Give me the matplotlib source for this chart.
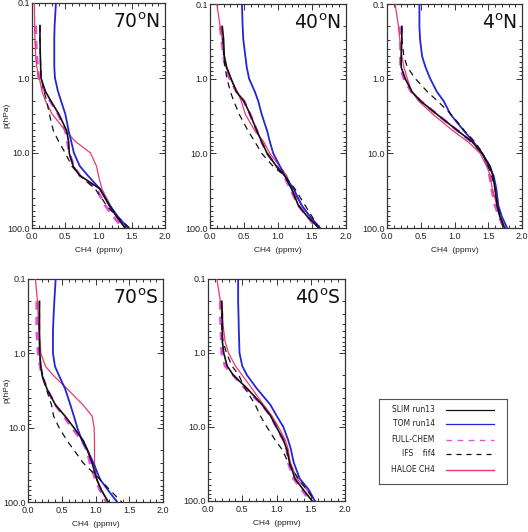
import numpy as np
import matplotlib
matplotlib.use("Agg")
import matplotlib.pyplot as plt
from matplotlib.ticker import FixedLocator, MultipleLocator, LogLocator, NullFormatter

nan = np.nan
# pressure levels (hPa)
P = [0.1, 0.2, 0.3, 0.5, 0.7, 1, 1.5, 2, 3, 5, 7, 10, 15, 20, 30, 50, 70, 100]

titles = ["70", "40", "4", "70", "40"]
hemis = ["N", "N", "N", "S", "S"]

# 70N
haloe_70n = [0.035, 0.04, 0.045, 0.055, 0.07, 0.11, 0.15, 0.2, 0.3, 0.5, 0.65, 0.88, 0.97, 1.0, 1.05, 1.18, 1.27, 1.40]
slim_70n = [nan, 0.12, 0.12, 0.125, 0.13, 0.135, 0.2, 0.28, 0.4, 0.52, 0.55, 0.56, 0.62, 0.72, 1.02, 1.16, 1.27, 1.40]
tom_70n = [0.36, 0.34, 0.335, 0.335, 0.335, 0.345, 0.39, 0.435, 0.5, 0.55, 0.59, 0.63, 0.72, 0.84, 1.02, 1.17, 1.29, 1.445]
full_70n = [nan, 0.055, 0.06, 0.07, 0.085, 0.1, 0.19, 0.27, 0.39, 0.5, 0.53, 0.56, 0.63, 0.72, 0.97, 1.1, 1.22, 1.37]
ifs_70n = [nan, 0.12, 0.12, 0.125, 0.13, 0.14, 0.18, 0.22, 0.26, 0.32, 0.4, 0.5, 0.6, 0.72, 0.95, 1.12, 1.27, 1.47]

# 40N
haloe_40n = [0.1, 0.15, 0.18, 0.21, 0.235, 0.3, 0.4, 0.46, 0.52, 0.66, 0.79, 0.88, 1.03, 1.13, 1.2, 1.35, 1.47, 1.6]
slim_40n = [nan, 0.18, 0.2, 0.21, 0.245, 0.31, 0.39, 0.5, 0.59, 0.69, 0.76, 0.84, 0.98, 1.1, 1.2, 1.3, 1.43, 1.6]
tom_40n = [0.47, 0.48, 0.49, 0.52, 0.54, 0.575, 0.66, 0.71, 0.76, 0.84, 0.88, 0.93, 1.03, 1.1, 1.23, 1.35, 1.47, 1.62]
full_40n = [nan, 0.15, 0.17, 0.2, 0.23, 0.29, 0.39, 0.5, 0.59, 0.69, 0.76, 0.84, 0.98, 1.09, 1.18, 1.3, 1.43, 1.57]
ifs_40n = [nan, 0.18, 0.19, 0.2, 0.22, 0.25, 0.3, 0.35, 0.43, 0.56, 0.66, 0.76, 0.93, 1.1, 1.25, 1.4, 1.5, 1.6]

# 4N
haloe_4n = [0.12, 0.17, 0.19, 0.22, 0.25, 0.3, 0.37, 0.47, 0.68, 0.98, 1.2, 1.38, 1.48, 1.53, 1.56, 1.63, 1.68, 1.75]
slim_4n = [nan, 0.22, 0.22, 0.21, 0.21, 0.27, 0.37, 0.5, 0.74, 1.05, 1.26, 1.41, 1.53, 1.57, 1.6, 1.63, 1.67, 1.74]
tom_4n = [0.48, 0.48, 0.49, 0.52, 0.57, 0.64, 0.74, 0.84, 0.94, 1.14, 1.28, 1.41, 1.51, 1.58, 1.62, 1.65, 1.7, 1.78]
full_4n = [nan, 0.19, 0.2, 0.2, 0.2, 0.25, 0.36, 0.5, 0.74, 1.05, 1.25, 1.4, 1.49, 1.52, 1.55, 1.6, 1.66, 1.73]
ifs_4n = [nan, 0.22, 0.22, 0.25, 0.3, 0.42, 0.6, 0.75, 0.95, 1.15, 1.3, 1.42, 1.5, 1.55, 1.6, 1.64, 1.68, 1.73]

# 70S
haloe_70s = [0.11, 0.14, 0.15, 0.16, 0.18, 0.19, 0.26, 0.38, 0.58, 0.82, 0.95, 0.98, 0.985, 0.985, 0.985, 1.02, 1.09, 1.19]
slim_70s = [nan, 0.17, 0.17, 0.17, 0.17, 0.175, 0.19, 0.21, 0.28, 0.41, 0.55, 0.68, 0.82, 0.88, 0.95, 1.02, 1.09, 1.19]
tom_70s = [0.41, 0.39, 0.38, 0.37, 0.37, 0.37, 0.4, 0.46, 0.55, 0.63, 0.68, 0.73, 0.8, 0.88, 0.97, 1.07, 1.19, 1.32]
full_70s = [nan, 0.13, 0.13, 0.13, 0.14, 0.15, 0.18, 0.21, 0.28, 0.41, 0.53, 0.65, 0.8, 0.87, 0.92, 1.0, 1.07, 1.16]
ifs_70s = [nan, 0.17, 0.17, 0.17, 0.17, 0.17, 0.19, 0.22, 0.27, 0.35, 0.38, 0.46, 0.58, 0.68, 0.82, 1.07, 1.22, 1.39]

# 40S
haloe_40s = [0.13, 0.18, 0.2, 0.23, 0.25, 0.3, 0.4, 0.5, 0.64, 0.81, 0.93, 1.03, 1.13, 1.17, 1.2, 1.3, 1.44, 1.56]
slim_40s = [nan, 0.2, 0.21, 0.21, 0.21, 0.23, 0.28, 0.37, 0.57, 0.79, 0.91, 1.0, 1.1, 1.15, 1.19, 1.27, 1.39, 1.52]
tom_40s = [0.44, 0.44, 0.445, 0.45, 0.455, 0.46, 0.5, 0.57, 0.71, 0.91, 1.0, 1.1, 1.17, 1.21, 1.25, 1.34, 1.47, 1.56]
full_40s = [nan, 0.18, 0.18, 0.19, 0.195, 0.2, 0.25, 0.37, 0.54, 0.79, 0.91, 1.0, 1.1, 1.15, 1.17, 1.25, 1.37, 1.49]
ifs_40s = [nan, 0.2, 0.2, 0.2, 0.22, 0.27, 0.35, 0.45, 0.54, 0.69, 0.76, 0.86, 0.98, 1.08, 1.17, 1.32, 1.44, 1.56]

panels = [
    (haloe_70n, slim_70n, tom_70n, full_70n, ifs_70n),
    (haloe_40n, slim_40n, tom_40n, full_40n, ifs_40n),
    (haloe_4n, slim_4n, tom_4n, full_4n, ifs_4n),
    (haloe_70s, slim_70s, tom_70s, full_70s, ifs_70s),
    (haloe_40s, slim_40s, tom_40s, full_40s, ifs_40s),
]

legend_labels = ["SLIM run13", "TOM run14", "FULL-CHEM", "IFS    fif4", "HALOE CH4"]

W, H = 528, 532
# pixel boxes (left, top, right, bottom)
boxes = [
    (32, 3, 165, 228),
    (210, 4, 346, 228),
    (387, 4, 522, 228),
    (28, 279, 163, 502),
    (208, 279, 345, 501),
]

C_BLACK = "#111111"
C_BLUE = "#2424d8"
C_MAG = "#e64ee6"
C_PINK = "#ea3a6e"
C_AX = "#333333"

fig = plt.figure(figsize=(W / 100, H / 100), dpi=100)
fig.patch.set_facecolor("white")

tick_font = "Liberation Sans"

for i, (box, data) in enumerate(zip(boxes, panels)):
    l, t, r, b = box
    ax = fig.add_axes([l / W, 1 - b / H, (r - l) / W, (b - t) / H])
    haloe, slim, tom, full, ifs = data
    ax.plot(haloe, P, color=C_PINK, lw=0.9, zorder=3)
    ax.plot(tom, P, color=C_BLUE, lw=1.3, zorder=3)
    ax.plot(full, P, color=C_MAG, lw=2.0, dashes=(3, 2.5), zorder=2)
    ax.plot(ifs, P, color=C_BLACK, lw=0.9, dashes=(5, 4), zorder=4)
    ax.plot(slim, P, color=C_BLACK, lw=1.2, zorder=5)

    ax.set_yscale("log")
    ax.set_ylim(100, 0.1)
    ax.set_xlim(0, 2.0)
    ax.xaxis.set_major_locator(FixedLocator([0, 0.5, 1.0, 1.5, 2.0]))
    ax.xaxis.set_minor_locator(MultipleLocator(0.1))
    ax.set_xticklabels(["0.0", "0.5", "1.0", "1.5", "2.0"], fontsize=6.5, family=tick_font, color="#222222")
    ax.yaxis.set_major_locator(FixedLocator([0.1, 1, 10, 100]))
    ax.yaxis.set_minor_locator(LogLocator(base=10, subs=np.arange(2, 10)))
    ax.yaxis.set_minor_formatter(NullFormatter())
    ax.set_yticklabels(["0.1", "1.0", "10.0", "100.0"], fontsize=6.5, family=tick_font, color="#222222")
    ax.tick_params(which="both", direction="in", top=True, right=True, color=C_AX, width=0.7)
    ax.tick_params(which="major", length=4, pad=3)
    ax.tick_params(axis="y", which="major", pad=1.5)
    ax.tick_params(which="minor", length=2)
    for s in ax.spines.values():
        s.set_color(C_AX)
        s.set_linewidth(0.9)
    ax.set_xlabel("CH4  (ppmv)", fontsize=6, family=tick_font, labelpad=4, color="#222222")
    if i in (0, 3):
        fig.text(6.5 / W, 1 - ((t + b) / 2) / H, "p(hPa)", rotation=90, ha="center", va="center",
                 fontsize=6, family=tick_font, color="#222222")
    ax.text(0.965, 0.915, titles[i] + r"$^\mathregular{o}$" + hemis[i], transform=ax.transAxes,
            ha="right", va="center", fontsize=13.5, family="DejaVu Sans", color="#111111")

# legend box
lx0, ly0, lx1, ly1 = 379, 399, 507, 484
lax = fig.add_axes([lx0 / W, 1 - ly1 / H, (lx1 - lx0) / W, (ly1 - ly0) / H])
lax.set_xlim(lx0, lx1)
lax.set_ylim(ly1, ly0)
lax.set_xticks([])
lax.set_yticks([])
for s in lax.spines.values():
    s.set_color("#555555")
    s.set_linewidth(0.8)
rows_y = [410, 424, 440, 454, 470]
styles = [
    dict(color=C_BLACK, lw=0.9),
    dict(color=C_BLUE, lw=0.9),
    dict(color=C_MAG, lw=1.0, dashes=(4, 4)),
    dict(color=C_BLACK, lw=0.9, dashes=(4, 4)),
    dict(color=C_PINK, lw=1.0),
]
for yy, lab, st in zip(rows_y, legend_labels, styles):
    lax.text(435, yy, lab, ha="right", va="center", fontsize=5.5, family="DejaVu Sans", color="#222222")
    lax.plot([446, 494], [yy, yy], **st)

fig.savefig("out.png", dpi=100)
